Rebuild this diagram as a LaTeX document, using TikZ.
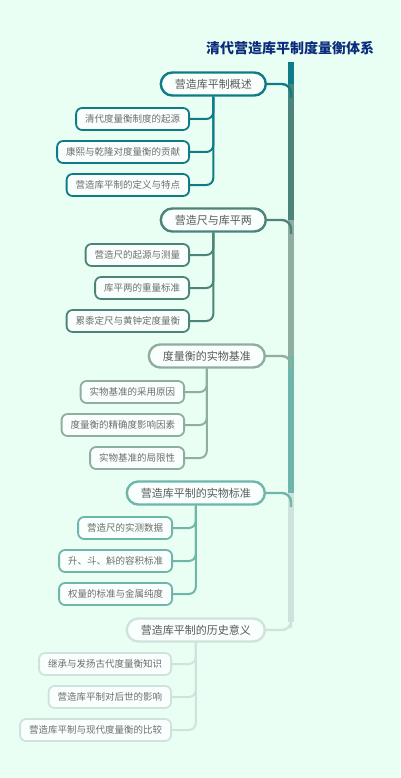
\documentclass[tikz,border=0pt]{standalone}
\usepackage{fontspec}
\setmainfont{Noto Sans CJK SC}
\usetikzlibrary{backgrounds}
\definecolor{bgc}{HTML}{EAFFF4}
\definecolor{ca}{HTML}{0E7C86}
\definecolor{cb}{HTML}{4D8479}
\definecolor{cc}{HTML}{8FAE9F}
\definecolor{cd}{HTML}{6DB6A9}
\definecolor{ce}{HTML}{CFE3DC}
\definecolor{nodefill}{HTML}{F8FFFC}
\definecolor{btext}{HTML}{5A5A5A}
\definecolor{ltext}{HTML}{6E6E6E}
\definecolor{titlec}{HTML}{0B2C7C}
\tikzset{
  branch/.style={draw=#1, line width=2.4pt, rounded corners=11.5pt, fill=nodefill,
    minimum height=23pt, inner xsep=14pt, inner ysep=0pt, anchor=east,
    font=\fontsize{11}{13}\selectfont, text=btext},
  leaf/.style={draw=#1, line width=1.8pt, rounded corners=6pt, fill=nodefill,
    minimum height=22pt, inner xsep=9pt, inner ysep=0pt, anchor=east,
    font=\fontsize{9.5}{11}\selectfont, text=ltext},
  leafline/.style={draw=#1, line width=2pt, rounded corners=7pt},
  bline/.style={draw=#1, line width=2.4pt, rounded corners=9pt},
  trunk/.style={draw=#1, line width=5.5pt},
  titlestyle/.style={font=\fontsize{14}{16}\selectfont\bfseries, text=titlec}
}
\begin{document}
\begin{tikzpicture}[x=1pt,y=-1pt]
\useasboundingbox (0,0) rectangle (400,778);
\node[titlestyle] (title) at (290,48) {清代营造库平制度量衡体系};

\node[branch=ca] (b1) at (267,84) {营造库平制概述};
\node[leaf=ca] (l11) at (190,119) {清代度量衡制度的起源};
\node[leaf=ca] (l12) at (190,152) {康熙与乾隆对度量衡的贡献};
\node[leaf=ca] (l13) at (190,185) {营造库平制的定义与特点};

\node[branch=cb] (b2) at (267,220) {营造尺与库平两};
\node[leaf=cb] (l21) at (190,255) {营造尺的起源与测量};
\node[leaf=cb] (l22) at (190,288) {库平两的重量标准};
\node[leaf=cb] (l23) at (190,321) {累黍定尺与黄钟定度量衡};

\node[branch=cc] (b3) at (266,356) {度量衡的实物基准};
\node[leaf=cc] (l31) at (185,392) {实物基准的采用原因};
\node[leaf=cc] (l32) at (185,425) {度量衡的精确度影响因素};
\node[leaf=cc] (l33) at (185,458) {实物基准的局限性};

\node[branch=cd] (b4) at (266,493) {营造库平制的实物标准};
\node[leaf=cd] (l41) at (173,528) {营造尺的实测数据};
\node[leaf=cd] (l42) at (173,561) {升、斗、斛的容积标准};
\node[leaf=cd] (l43) at (173,594) {权量的标准与金属纯度};

\node[branch=ce] (b5) at (266,630) {营造库平制的历史意义};
\node[leaf=ce] (l51) at (172,664) {继承与发扬古代度量衡知识};
\node[leaf=ce] (l52) at (172,697) {营造库平制对后世的影响};
\node[leaf=ce] (l53) at (172,730) {营造库平制与现代度量衡的比较};

\coordinate (t0) at (291,62);
\coordinate (t1) at (291,84);
\coordinate (t2) at (291,220);
\coordinate (t3) at (291,356);
\coordinate (t4) at (291,493);
\coordinate (t5) at (291,622);

\begin{scope}[on background layer]
\fill[bgc] (0,0) rectangle (400,778);
\draw[trunk=ca] (t0) -- (t1);
\draw[trunk=cb] (t1) -- (t2);
\draw[trunk=cc] (t2) -- (t3);
\draw[trunk=cd] (t3) -- (t4);
\draw[trunk=ce] (t4) -- (t5);
\draw[bline=ca] (b1.east) -| ([yshift=-14pt]t1);
\draw[bline=cb] (b2.east) -| ([yshift=-14pt]t2);
\draw[bline=cc] (b3.east) -| ([yshift=-14pt]t3);
\draw[bline=cd] (b4.east) -| ([yshift=-14pt]t4);
\draw[bline=ce] (b5.east) -| ([yshift=-6pt]t5);
\foreach \b/\c in {1/ca,2/cb,3/cc,4/cd,5/ce}{
  \foreach \l in {1,2,3}{
    \draw[leafline=\c] (b\b.south) |- (l\b\l.east);
  }
}
\end{scope}
\end{tikzpicture}
\end{document}
